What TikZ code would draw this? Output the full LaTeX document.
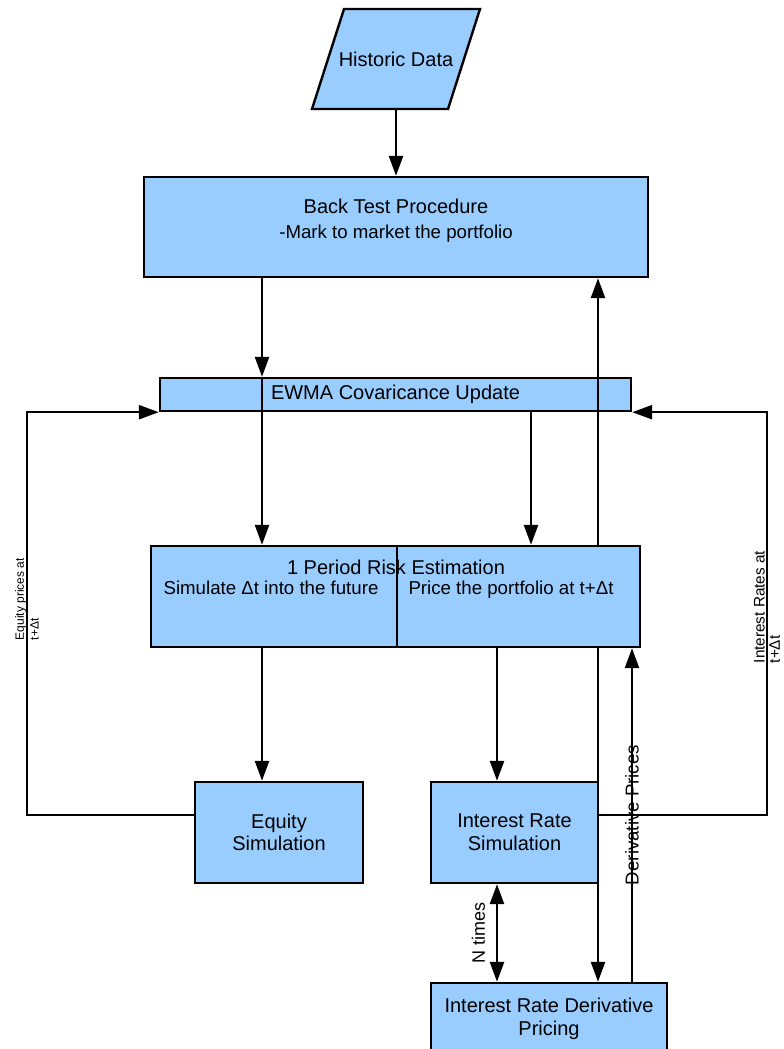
\documentclass[tikz,border=0pt]{standalone}
\usepackage{fontspec}
\setmainfont{Liberation Sans}
\usetikzlibrary{arrows.meta,positioning}
\definecolor{boxblue}{HTML}{99CCFF}
\newcommand\pxl{0.75pt}

\begin{document}
\begin{tikzpicture}[x=0.75pt,y=-0.75pt,
    blk/.style={draw,fill=boxblue,line width=1.8pt,inner sep=0pt,align=center,font=\fontsize{15}{17}\selectfont},
    txt/.style={font=\fontsize{15}{18.5}\selectfont,inner sep=0pt},
    sub/.style={font=\fontsize{14}{18}\selectfont,inner sep=0pt},
    arr/.style={line width=1.9pt,-{Triangle[length=15pt,width=10.5pt]}},
    darr/.style={line width=1.9pt,{Triangle[length=15pt,width=10.5pt]}-{Triangle[length=15pt,width=10.5pt]}}]
  \useasboundingbox (0,0) rectangle (783,1049);
  \draw[line width=1.8pt,fill=boxblue] (312,109) -- (344,9) -- (480,9) -- (448,109) -- cycle;
  \node[txt] (hist) at (396,59) {Historic Data};
  \coordinate (histb) at (396,109);

  \node[blk,minimum width=504*\pxl,minimum height=100*\pxl] (bt) at (396,227) {};
  \node[txt,align=center] (bttext) at (396,221) {Back Test Procedure\\{\fontsize{14}{18}\selectfont -Mark to market the portfolio}};
  \node[blk,minimum width=471*\pxl,minimum height=33*\pxl] (ewma) at (395.5,394.5) {EWMA Covaricance Update};
  \node[blk,minimum width=246*\pxl,minimum height=101*\pxl] (riskl) at (274,596.5) {};
  \node[blk,minimum width=243*\pxl,minimum height=101*\pxl] (riskr) at (518.5,596.5) {};
  \node[txt,anchor=base] (risktitle) at (396,574) {1 Period Risk Estimation};
  \node[sub,anchor=base] (risksim) at (271,594) {Simulate Δt into the future};
  \node[sub,anchor=base] (riskprice) at (511,594) {Price the portfolio at t+Δt};
  \node[blk,minimum width=168*\pxl,minimum height=101*\pxl] (eq) at (279,832.5) {Equity\\Simulation};
  \node[blk,minimum width=167*\pxl,minimum height=101*\pxl] (irs) at (514.5,832.5) {Interest Rate\\Simulation};
  \node[blk,minimum width=236*\pxl,minimum height=72*\pxl] (ird) at (549,1019) {Interest Rate Derivative\\Pricing};

  \coordinate (xeq) at (262,0);
  \coordinate (xir) at (497,0);
  \coordinate (xew) at (531,0);
  \coordinate (xbt) at (598,0);
  \coordinate (xdp) at (632,0);
  \coordinate (yfeed) at (0,815);
  \node[rotate=90,align=left,inner sep=0pt,font=\fontsize{9}{11}\selectfont] (eqlab) at (27,599) {Equity prices at\\t+Δt};
  \node[rotate=90,align=left,inner sep=0pt,font=\fontsize{11.5}{11.5}\selectfont] (irlab) at (767,607) {Interest Rates at\\t+Δt};

  \draw[arr] (histb) -- (bt.north);
  \draw[arr] (bt.south -| xeq) -- (ewma.north -| xeq);
  \draw[arr] (ewma.north -| xeq) -- (riskl.north -| xeq);
  \draw[arr] (ewma.south -| xew) -- (riskr.north -| xew);
  \draw[arr] (riskr.north -| xbt) -- (bt.south -| xbt);
  \draw[arr] (riskl.south -| xeq) -- (eq.north -| xeq);
  \draw[arr] (riskr.south -| xir) -- (irs.north -| xir);
  \draw[arr] (riskr.south -| xbt) -- (ird.north -| xbt);
  \draw[arr] (ird.north -| xdp) -- (riskr.south -| xdp)
    node[midway,rotate=90,inner sep=0pt,font=\fontsize{14}{16}\selectfont] (dplab) {Derivative Prices};
  \draw[darr] (irs.south -| xir) -- (ird.north -| xir)
    node[midway,rotate=90,anchor=south,inner sep=8pt,font=\fontsize{13.5}{16}\selectfont] (ntimes) {N times};
  \draw[arr] (eq.west |- yfeed) -| (eqlab.center) |- (ewma.south west);
  \draw[arr] (irs.east |- yfeed) -| (irlab.center) |- (ewma.south east);
\end{tikzpicture}
\end{document}
